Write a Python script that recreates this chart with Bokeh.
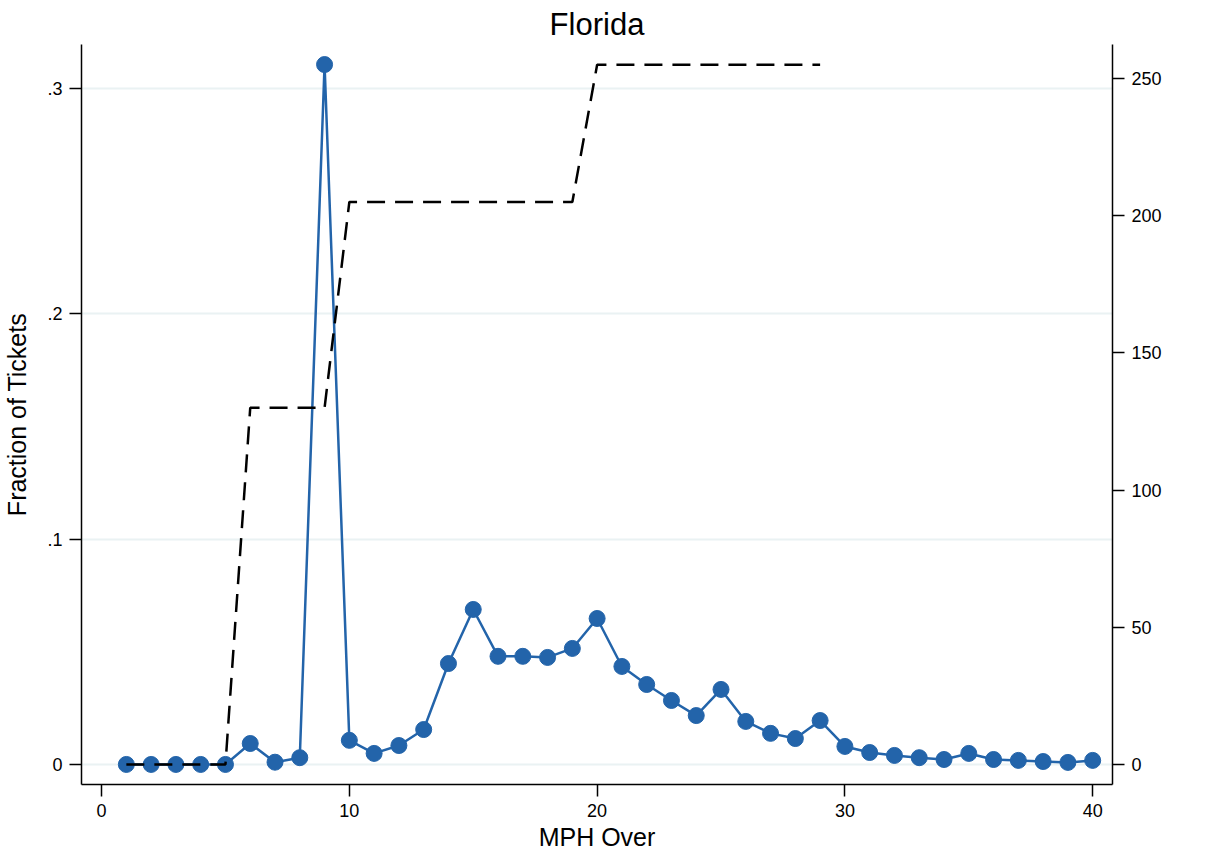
import math
from bokeh.plotting import figure
from bokeh.models import Range1d, LinearAxis, FixedTicker
from bokeh.embed import file_html
from bokeh.resources import INLINE

# Share of speeding tickets by miles per hour over the limit
mph = list(range(1, 41))
fraction = [0.0, 0.0, 0.0, 0.0, 0.0, 0.0093, 0.001, 0.003, 0.3107, 0.0107,
            0.0049, 0.0084, 0.0155, 0.0448, 0.0688, 0.048, 0.048, 0.0475, 0.0515, 0.0648,
            0.0435, 0.0355, 0.0284, 0.0217, 0.0333, 0.0191, 0.0138, 0.0115, 0.0195, 0.008,
            0.0053, 0.004, 0.003, 0.0022, 0.0049, 0.0022, 0.0018, 0.0013, 0.0009, 0.0018]

# Fine schedule (dollars) by mph over
fine_mph = list(range(1, 30))
fine = [0, 0, 0, 0, 0, 130, 130, 130, 130,
        205, 205, 205, 205, 205, 205, 205, 205, 205, 205,
        255, 255, 255, 255, 255, 255, 255, 255, 255, 255]

x_ticks = [0, 10, 20, 30, 40]
left_ticks = [0, 0.1, 0.2, 0.3]
left_labels = {0: "0", 0.1: ".1", 0.2: ".2", 0.3: ".3"}
right_ticks = [0, 50, 100, 150, 200, 250]

FONT = "Liberation Sans"
BLUE = "#2364aa"

X_LO, X_HI = -0.81, 40.8
FINE_LO, FINE_HI = -7.29, 262.4

p = figure(width=1208, height=854, output_backend="svg", toolbar_location=None,
           x_range=Range1d(X_LO, X_HI), y_range=Range1d(-0.0089, 0.3196),
           min_border_left=80, min_border_right=96, min_border_top=44,
           min_border_bottom=70, title="Florida")
p.extra_y_ranges = {"fine": Range1d(FINE_LO, FINE_HI)}

p.title.align = "center"
p.title.text_font = FONT
p.title.text_font_size = "31px"
p.title.text_font_style = "normal"
p.title.text_color = "black"
p.title.offset = 0
p.title.standoff = 6

p.outline_line_color = None
p.background_fill_color = "white"
p.border_fill_color = "white"

p.xgrid.visible = False
p.ygrid.ticker = FixedTicker(ticks=left_ticks)
p.ygrid.grid_line_color = "#eaf2f3"
p.ygrid.grid_line_width = 2

def style_axis(ax):
    ax.axis_line_color = "black"
    ax.axis_line_width = 1.5
    ax.major_tick_line_color = "black"
    ax.major_tick_line_width = 1.5
    ax.major_tick_out = 12
    ax.major_tick_in = 0
    ax.minor_tick_line_color = None
    ax.major_label_text_font = FONT
    ax.major_label_text_font_size = "18px"
    ax.major_label_text_color = "black"
    ax.major_label_standoff = 7
    ax.axis_label_text_font = FONT
    ax.axis_label_text_font_size = "25px"
    ax.axis_label_text_font_style = "normal"
    ax.axis_label_text_color = "black"

xa = p.xaxis[0]
style_axis(xa)
xa.ticker = FixedTicker(ticks=x_ticks)
xa.axis_label = "MPH Over"
xa.axis_label_standoff = 3

ya = p.yaxis[0]
style_axis(ya)
ya.ticker = FixedTicker(ticks=left_ticks)
ya.major_label_overrides = left_labels
ya.major_label_orientation = "horizontal"
ya.axis_label = "Fraction of Tickets"
ya.axis_label_standoff = 13

# Right axis for the fine amount
ra = LinearAxis(y_range_name="fine")
style_axis(ra)
ra.ticker = FixedTicker(ticks=right_ticks)
ra.major_label_orientation = "horizontal"
p.add_layout(ra, "right")

# Right-axis title: an HTML label (reading bottom to top) when available,
# otherwise the axis's own rotated label
try:
    from bokeh.models import HTMLLabel
    p.add_layout(HTMLLabel(x=X_HI, y=(FINE_LO + FINE_HI) / 2, y_range_name="fine",
                           x_offset=75, text="Fine Amount", angle=math.pi / 2,
                           text_align="center", text_baseline="middle",
                           text_font=FONT, text_font_size="25px",
                           text_color="black"))
except Exception:
    ra.axis_label = "Fine Amount"
    ra.axis_label_standoff = 14
    ra.axis_label_orientation = math.pi / 2

# Fraction of tickets: connected markers
p.line(mph, fraction, line_color=BLUE, line_width=2.5)
p.scatter(mph, fraction, size=16, fill_color=BLUE, line_color=BLUE)

# Fine amount: dashed line on the right axis
p.line(fine_mph, fine, y_range_name="fine", line_color="black",
       line_width=2.5, line_dash="18 10")

open("out.html", "w").write(file_html(p, INLINE))
